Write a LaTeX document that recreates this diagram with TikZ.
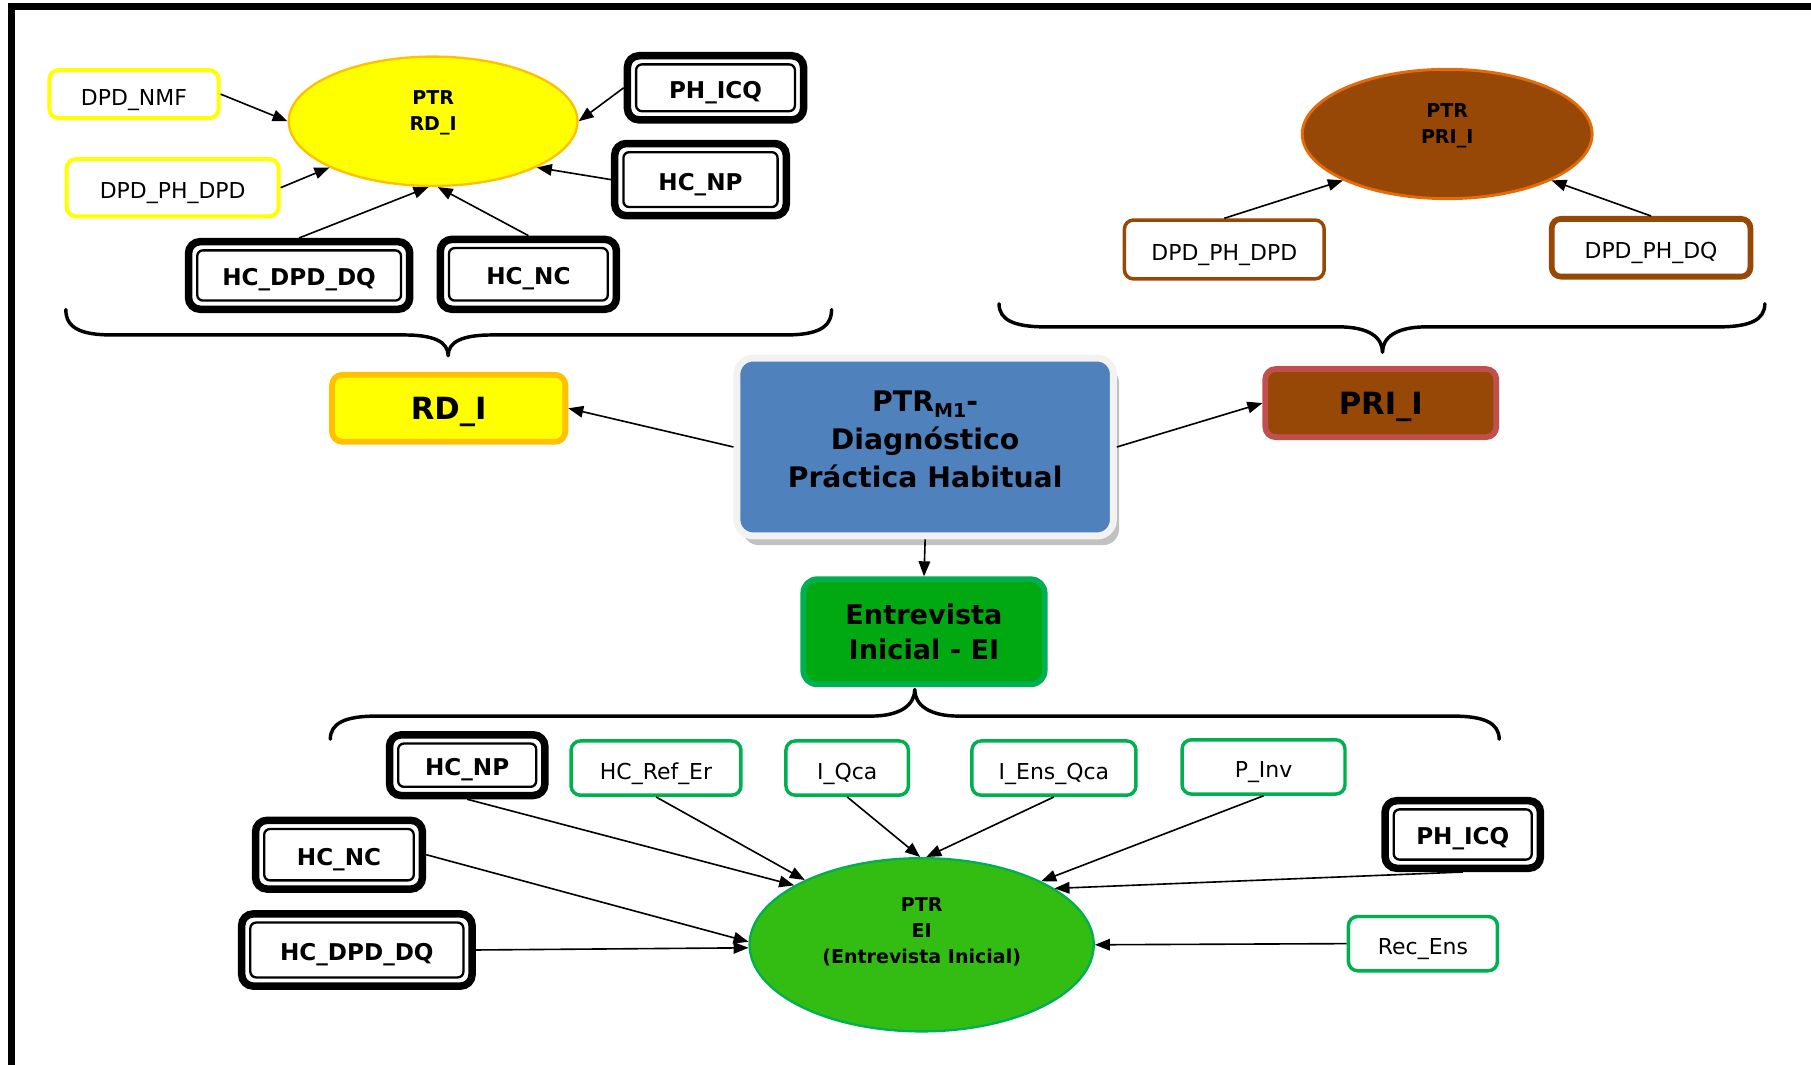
\documentclass[tikz,border=0pt]{standalone}
\usepackage{fontspec}
\setmainfont{DejaVu Sans}
\usetikzlibrary{shapes.geometric,arrows.meta,shadows}

\definecolor{yel}{HTML}{FFFF00}
\definecolor{orn}{HTML}{FFC000}
\definecolor{brn}{HTML}{984806}
\definecolor{brnedge}{HTML}{E36C09}
\definecolor{redge}{HTML}{C0504D}
\definecolor{blu}{HTML}{4F81BD}
\definecolor{grn}{HTML}{00B050}
\definecolor{grnfill}{HTML}{00A811}
\definecolor{limefill}{HTML}{33BD13}

\newcommand{\setfs}[2]{\fontsize{#1}{#2}\selectfont}

\begin{document}
\begin{tikzpicture}[x=1pt,y=-1pt,
  conn/.style={line width=1.4, -{Triangle[length=13pt,width=10pt]}},
  curlyline/.style={line width=3, line join=round, line cap=round},
  lbl/.style={inner sep=0, font=\setfs{19}{23}, text height=19pt, text depth=0pt},
  yelbox/.style={lbl, draw=yel, line width=3.5, fill=white, rounded corners=8},
  brnbox/.style={lbl, draw=brn, line width=3, fill=white, rounded corners=8},
  grnbox/.style={lbl, draw=grn, line width=3, fill=white, rounded corners=8},
  hcbox/.style={draw=black, line width=6.5, fill=white, rounded corners=10, inner sep=0,
    font=\setfs{20}{24}\bfseries, text height=18pt, text depth=0pt,
    path picture={\draw[line width=2, rounded corners=5]
      ([xshift=7.5pt,yshift=-7.5pt]path picture bounding box.north west) rectangle
      ([xshift=-7.5pt,yshift=7.5pt]path picture bounding box.south east);}},
  elltext/.style={inner sep=0, align=center, font=\setfs{16.5}{22.5}\bfseries},
  bigbox/.style={line width=5, rounded corners=9, inner sep=0, font=\setfs{26.5}{30}\bfseries,
    text height=19.3pt, text depth=0pt}
]
\useasboundingbox (0,0) rectangle (1568,922);

% page frame (top and left rules)
\draw[line width=5.5] (10,930) -- (10,5.5) -- (1575,5.5);

% ---------- upper left cluster: PTR RD_I ----------
\node[ellipse, draw=orn, fill=yel, line width=2, minimum width=250, minimum height=112, inner sep=0] (E1) at (375,105) {};
\node[elltext] (E1t) at (375,98) {PTR\\RD\_I};

\node[yelbox, minimum width=146.5, minimum height=41.5] (DPDNMF) at (116,81.5) {DPD\_NMF};
\node[yelbox, minimum width=183.5, minimum height=49.5] (yDPDPHDPD) at (149.5,162.5) {DPD\_PH\_DPD};
\node[hcbox, minimum width=152.5, minimum height=55.5] (tPHICQ) at (619.5,76) {PH\_ICQ};
\node[hcbox, minimum width=148.5, minimum height=62.5] (tHCNP) at (606.5,155.5) {HC\_NP};
\node[hcbox, minimum width=191.5, minimum height=58.5] (tHCDPDDQ) at (259,238.5) {HC\_DPD\_DQ};
\node[hcbox, minimum width=152.5, minimum height=60.5] (tHCNC) at (457.5,237.5) {HC\_NC};

\draw[conn] (DPDNMF.east) -- (E1.west);
\draw[conn] (yDPDPHDPD.east) -- (E1.204);
\draw[conn] (tPHICQ.west) -- (E1.east);
\draw[conn] (tHCNP.west) -- (E1.-24);
\draw[conn] (tHCDPDDQ.north) -- (E1.-94);
\draw[conn] (tHCNC.north) -- (E1.-86);

\draw[curlyline] (57,268) .. controls (57,284) and (70,290) .. (97,290) -- (350,290)
  .. controls (376,290) and (388,296) .. (388,308)
  .. controls (388,296) and (400,290) .. (426,290) -- (680,290)
  .. controls (707,290) and (720,284) .. (720,268);

% ---------- upper right cluster: PTR PRI_I ----------
\node[ellipse, draw=brnedge, fill=brn, line width=2.5, minimum width=251, minimum height=112, inner sep=0] (E2) at (1253,116) {};
\node[elltext] (E2t) at (1253,108.5) {PTR\\PRI\_I};

\node[brnbox, minimum width=173, minimum height=51] (rDPDPHDPD) at (1060,216) {DPD\_PH\_DPD};
\node[brnbox, line width=5, minimum width=172, minimum height=50] (rDPDPHDQ) at (1429.5,214.5) {DPD\_PH\_DQ};

\draw[conn] (rDPDPHDPD.north) -- (E2.204);
\draw[conn] (rDPDPHDQ.north) -- (E2.-24);

\draw[curlyline] (865,263) .. controls (865,277) and (878,283) .. (905,283) -- (1159,283)
  .. controls (1185,283) and (1197,292) .. (1197,305)
  .. controls (1197,292) and (1209,283) .. (1235,283) -- (1488,283)
  .. controls (1515,283) and (1528,277) .. (1528,263);

% ---------- central row ----------
\node[bigbox, draw=orn, fill=yel, minimum width=202, minimum height=58] (RDI) at (388.5,353.5) {RD\_I};
\node[bigbox, draw=redge, fill=brn, minimum width=200, minimum height=59] (PRII) at (1195.5,349) {PRI\_I};

\node[draw=gray!10, line width=6, fill=blu, rounded corners=14, minimum width=326, minimum height=154, inner sep=0,
  drop shadow={shadow xshift=5pt, shadow yshift=-8pt, fill=gray!60, opacity=0.8}] (C) at (801,387) {};
\node[inner sep=0, align=center, font=\setfs{24.5}{33}\bfseries] (Ct) at (801,380.5)
  {PTR\raisebox{-5pt}{\setfs{16.5}{18}M1}-\\Diagnóstico\\Práctica Habitual};

\node[draw=grn, fill=grnfill, line width=5, rounded corners=12, minimum width=209, minimum height=91, inner sep=0,
  align=center, font=\setfs{23.5}{31}\bfseries] (EI) at (800,547) {Entrevista\\Inicial - EI};

\draw[conn] (C.west) -- (RDI.east);
\draw[conn] (C.east) -- (PRII.west);
\draw[conn] (C.south) -- (EI.north);

% ---------- lower cluster: PTR EI ----------
\draw[curlyline] (286,640) .. controls (286,626) and (299,620) .. (326,620) -- (754,620)
  .. controls (780,620) and (792,610) .. (792,597)
  .. controls (792,610) and (804,620) .. (830,620) -- (1258,620)
  .. controls (1285,620) and (1298,626) .. (1298,640);

\node[ellipse, draw=grn, fill=limefill, line width=2, minimum width=298, minimum height=150, inner sep=0] (E3) at (798,818) {};
\node[elltext] (E3t) at (798,807) {PTR\\EI\\(Entrevista Inicial)};

\node[hcbox, minimum width=134.5, minimum height=52.5] (bHCNP) at (404.5,662.5) {HC\_NP};
\node[grnbox, minimum width=147, minimum height=47] (HCRefEr) at (568,665) {HC\_Ref\_Er};
\node[grnbox, minimum width=106, minimum height=47] (IQca) at (733.5,665) {I\_Qca};
\node[grnbox, minimum width=142, minimum height=47] (IEnsQca) at (912.5,665) {I\_Ens\_Qca};
\node[grnbox, minimum width=141, minimum height=47] (PInv) at (1094,664) {P\_Inv};
\node[hcbox, minimum width=134.5, minimum height=58.5] (bPHICQ) at (1266.5,722.5) {PH\_ICQ};
\node[hcbox, minimum width=144.5, minimum height=59.5] (bHCNC) at (293.5,740) {HC\_NC};
\node[hcbox, minimum width=199.5, minimum height=62.5] (bHCDPDDQ) at (309,822.5) {HC\_DPD\_DQ};
\node[grnbox, minimum width=129, minimum height=47] (RecEns) at (1232,817) {Rec\_Ens};

\draw[conn] (bHCNP.south) -- (E3.155);
\draw[conn] (HCRefEr.south) -- (E3.151);
\draw[conn] (IQca.south) -- (E3.91);
\draw[conn] (IEnsQca.south) -- (E3.87);
\draw[conn] (PInv.south) -- (E3.28);
\draw[conn] (bPHICQ.south) -- (E3.23);
\draw[conn] (bHCNC.east) -- (E3.179);
\draw[conn] (bHCDPDDQ.east) -- (E3.181);
\draw[conn] (RecEns.west) -- (E3.east);

\end{tikzpicture}
\end{document}
